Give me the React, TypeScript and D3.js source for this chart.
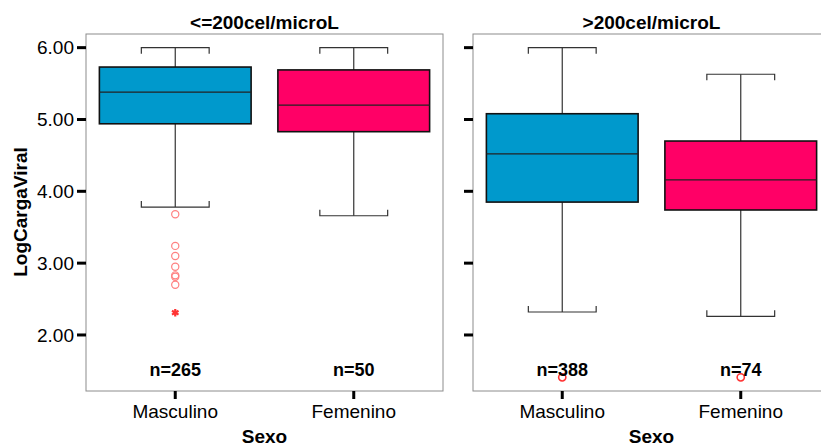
import React from 'react';
import * as d3 from 'd3';

// Data
const panels = ['<=200cel/microL', '>200cel/microL'];
const categories = ['Masculino', 'Femenino'];
const counts = [[265, 50], [388, 74]];
const whiskerHigh = [[6.0, 6.0], [6.0, 5.63]];
const q3 = [[5.73, 5.69], [5.08, 4.7]];
const medians = [[5.38, 5.2], [4.52, 4.16]];
const q1 = [[4.94, 4.83], [3.85, 3.74]];
const whiskerLow = [[3.78, 3.66], [2.32, 2.26]];
// outliers: [panel, category, value]
const outliers = [
  [0, 0, 3.68], [0, 0, 3.24], [0, 0, 3.1], [0, 0, 2.95],
  [0, 0, 2.83], [0, 0, 2.81], [0, 0, 2.7],
  [1, 0, 1.41], [1, 1, 1.41],
];
const extremes = [[0, 0, 2.31]];
const yTicks = [2, 3, 4, 5, 6];

const W = 821;
const H = 447;
const panelLeft = [86, 473];
const panelW = 357;
const top = 34;
const bottom = 391;
const colors = ['#0099CC', '#FF0066'];
const font = 'Liberation Sans, Arial, sans-serif';

const App = () => {
  const y = d3.scaleLinear().domain([1.22, 6.19]).range([bottom, top]);
  const x = d3.scaleBand<string>().domain(categories).range([0, panelW]);
  const boxW = x.step() * 0.85;
  const capW = x.step() * 0.38;
  const cx = (c: number) => (x(categories[c]) as number) + x.bandwidth() / 2;
  const star = d3.symbol(d3.symbolAsterisk, 40)();

  return (
    <svg width={W} height={H} style={{ position: 'absolute', left: 0, top: 0, background: '#fff' }} fontFamily={font}>
      {panels.map((title, p) => (
        <g key={title} transform={`translate(${panelLeft[p]},0)`}>
          <rect x={0} y={top} width={panelW} height={bottom - top} fill="none" stroke="#8c8c8c" strokeWidth={1} />
          <text x={panelW / 2} y={29} textAnchor="middle" fontSize={19} fontWeight="bold">{title}</text>
          {/* y ticks */}
          {yTicks.map(t => (
            <g key={t}>
              <line x1={-9} x2={0} y1={y(t)} y2={y(t)} stroke="#000" strokeWidth={3} />
              {p === 0 && (
                <text x={-12} y={y(t)} dy="0.36em" textAnchor="end" fontSize={19}>{t.toFixed(2)}</text>
              )}
            </g>
          ))}
          {/* x ticks */}
          {categories.map((c, i) => (
            <g key={c}>
              <line x1={cx(i)} x2={cx(i)} y1={bottom} y2={bottom + 8} stroke="#000" strokeWidth={3} />
              <text x={cx(i)} y={418} textAnchor="middle" fontSize={19}>{c}</text>
            </g>
          ))}
          <text x={panelW / 2} y={443} textAnchor="middle" fontSize={19} fontWeight="bold">Sexo</text>
          {/* boxes */}
          {categories.map((c, i) => (
            <g key={c}>
              <line x1={cx(i)} x2={cx(i)} y1={y(whiskerHigh[p][i])} y2={y(q3[p][i])} stroke="#333" strokeWidth={1.2} />
              <line x1={cx(i)} x2={cx(i)} y1={y(q1[p][i])} y2={y(whiskerLow[p][i])} stroke="#333" strokeWidth={1.2} />
              <path d={`M${cx(i) - capW / 2},${y(whiskerHigh[p][i]) + 6}V${y(whiskerHigh[p][i])}H${cx(i) + capW / 2}V${y(whiskerHigh[p][i]) + 6}`} fill="none" stroke="#333" strokeWidth={1.2} />
              <path d={`M${cx(i) - capW / 2},${y(whiskerLow[p][i]) - 6}V${y(whiskerLow[p][i])}H${cx(i) + capW / 2}V${y(whiskerLow[p][i]) - 6}`} fill="none" stroke="#333" strokeWidth={1.2} />
              <rect x={cx(i) - boxW / 2} y={y(q3[p][i])} width={boxW} height={y(q1[p][i]) - y(q3[p][i])} fill={colors[i]} stroke="#111" strokeWidth={1.6} />
              <line x1={cx(i) - boxW / 2} x2={cx(i) + boxW / 2} y1={y(medians[p][i])} y2={y(medians[p][i])} stroke="#222" strokeWidth={1.2} />
            </g>
          ))}
          {outliers.filter(o => o[0] === p).map((o, k) => (
            <circle key={k} cx={cx(o[1])} cy={y(o[2])} r={3.6} fill="none"
              stroke={p === 0 ? '#FF8080' : '#FF3333'} strokeWidth={p === 0 ? 1.2 : 1.6} />
          ))}
          {extremes.filter(o => o[0] === p).map((o, k) => (
            <path key={k} d={star as string} transform={`translate(${cx(o[1])},${y(o[2])})`} stroke="#FF3333" strokeWidth={2.2} fill="none" />
          ))}
          {categories.map((c, i) => (
            <text key={c} x={cx(i)} y={376} textAnchor="middle" fontSize={18} fontWeight="bold">n={counts[p][i]}</text>
          ))}
        </g>
      ))}
      <text transform={`translate(27,212) rotate(-90)`} textAnchor="middle" fontSize={19} fontWeight="bold">LogCargaViral</text>
    </svg>
  );
};

export default App;
